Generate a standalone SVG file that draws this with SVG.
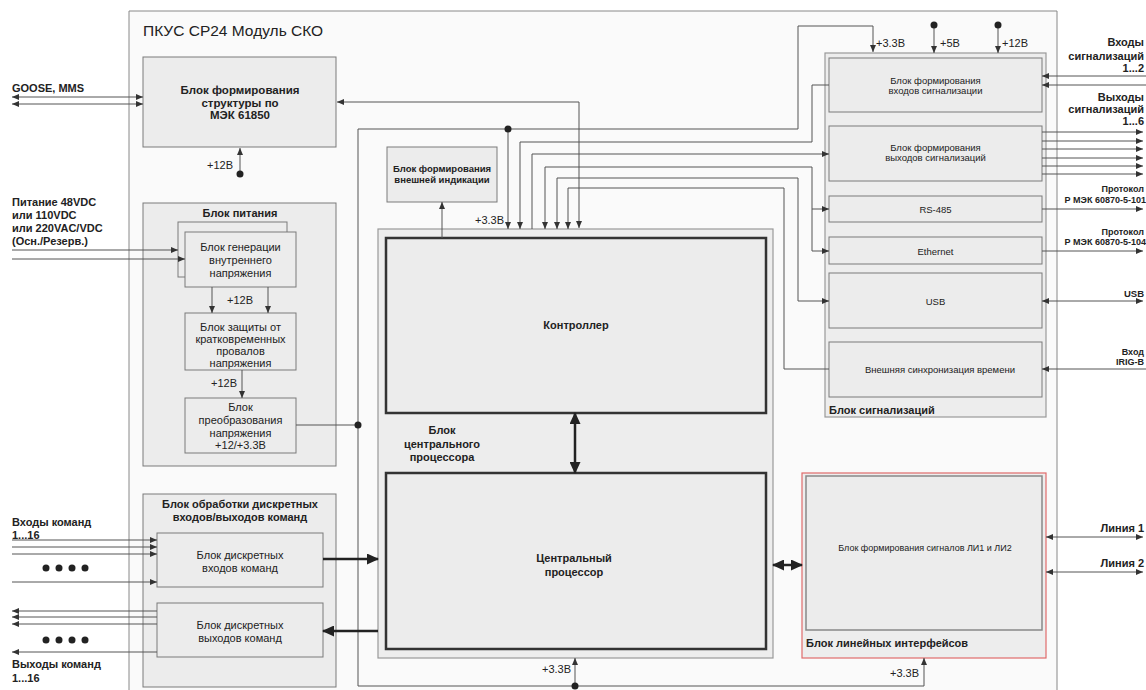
<svg xmlns="http://www.w3.org/2000/svg" width="1146" height="690" viewBox="0 0 1146 690">
<style>
text{font-family:"Liberation Sans",Arial,sans-serif;fill:#222}
.b{font-weight:bold}
.f11{font-size:11px}
.f115{font-size:11.5px}
.f9{font-size:9px}
.f95{font-size:9.5px}
.c{text-anchor:middle}
.r{text-anchor:end}
.box{fill:#ececec;stroke:#7a7a7a;stroke-width:1}
.cont{fill:#ededed;stroke:#999;stroke-width:1.2}
.strong{fill:#ececec;stroke:#333;stroke-width:2.5}
.ln{fill:none;stroke:#555;stroke-width:1}
.th{fill:none;stroke:#222;stroke-width:2.5}
.e{marker-end:url(#a)}
.bo{marker-start:url(#a);marker-end:url(#a)}
.te{marker-end:url(#A)}
.tb{marker-start:url(#A);marker-end:url(#A)}
.dot{fill:#222}
</style>
<defs>
<marker id="a" viewBox="0 0 7 6" refX="7" refY="3" markerWidth="7" markerHeight="6" markerUnits="userSpaceOnUse" orient="auto-start-reverse"><path d="M0,0L7,3L0,6z" fill="#333"/></marker>
<marker id="A" viewBox="0 0 12 11" refX="11" refY="5.5" markerWidth="12" markerHeight="11" markerUnits="userSpaceOnUse" orient="auto-start-reverse"><path d="M0,0L12,5.5L0,11z" fill="#222"/></marker>
</defs>
<rect width="1146" height="690" fill="#ffffff"/>
<g id="frame">
<path d="M129,690V11H1057V690" fill="#fafafa" stroke="#888" stroke-width="1"/>
<text x="143" y="36" style="font-size:15.5px">ПКУС СР24 Модуль СКО</text>
</g>

<g id="iec61850">
<rect class="box" x="143" y="57" width="193" height="90"/>
<text class="b f115 c" x="240" y="94">Блок формирования</text>
<text class="b f115 c" x="240" y="106.5">структуры по</text>
<text class="b f115 c" x="240" y="119">МЭК 61850</text>
</g>

<g id="power">
<rect class="box" x="143" y="203" width="193" height="263"/>
<text class="b f11 c" x="240" y="217">Блок питания</text>
</g>
<g id="gen">
<rect class="box" x="178" y="222" width="109" height="55"/>
<rect class="box" x="185" y="232" width="111" height="55"/>
<text class="f11 c" x="240.5" y="251">Блок генерации</text>
<text class="f11 c" x="240.5" y="264">внутреннего</text>
<text class="f11 c" x="240.5" y="277">напряжения</text>
</g>
<g id="protect">
<rect class="box" x="185" y="313" width="111" height="57"/>
<text class="f11 c" x="240.5" y="331">Блок защиты от</text>
<text class="f11 c" x="240.5" y="343">кратковременных</text>
<text class="f11 c" x="240.5" y="355">провалов</text>
<text class="f11 c" x="240.5" y="366.5">напряжения</text>
</g>
<g id="conv">
<rect class="box" x="185" y="398" width="111" height="55"/>
<text class="f11 c" x="240.5" y="411">Блок</text>
<text class="f11 c" x="240.5" y="424">преобразования</text>
<text class="f11 c" x="240.5" y="436.5">напряжения</text>
<text class="f11 c" x="240.5" y="449">+12/+3.3В</text>
</g>

<g id="discrete">
<rect class="box" x="143" y="494" width="193" height="193"/>
<text class="b f11 c" x="240" y="508">Блок обработки дискретных</text>
<text class="b f11 c" x="240" y="521">входов/выходов команд</text>
</g>
<g id="din">
<rect class="box" x="157" y="533" width="166" height="54"/>
<text class="f11 c" x="240" y="559">Блок дискретных</text>
<text class="f11 c" x="240" y="572">входов команд</text>
</g>
<g id="dout">
<rect class="box" x="157" y="603" width="166" height="54"/>
<text class="f11 c" x="240" y="629">Блок дискретных</text>
<text class="f11 c" x="240" y="642">выходов команд</text>
</g>

<g id="indication">
<rect class="box" x="387" y="147" width="110" height="55"/>
<text class="b f95 c" x="442" y="171.5">Блок формирования</text>
<text class="b f95 c" x="442" y="183">внешней индикации</text>
</g>

<g id="cpublock">
<rect class="cont" x="378" y="229" width="395" height="429"/>
<text class="b f11 c" x="442" y="434">Блок</text>
<text class="b f11 c" x="442" y="448">центрального</text>
<text class="b f11 c" x="442" y="461">процессора</text>
</g>
<g id="controller">
<rect class="strong" x="386" y="238" width="380" height="175"/>
<text class="b f11 c" x="576" y="329">Контроллер</text>
</g>
<g id="cpu">
<rect class="strong" x="386" y="473" width="380" height="176"/>
<text class="b f11 c" x="574" y="562">Центральный</text>
<text class="b f11 c" x="574" y="576">процессор</text>
</g>

<g id="signals">
<rect class="cont" x="825" y="53" width="221" height="364"/>
<text class="b f11" x="829" y="414">Блок сигнализаций</text>
</g>
<g id="sig-in">
<rect class="box" x="829" y="58" width="213" height="54"/>
<text class="f95 c" x="935.5" y="83.5">Блок формирования</text>
<text class="f95 c" x="935.5" y="94">входов сигнализации</text>
</g>
<g id="sig-out">
<rect class="box" x="829" y="126" width="213" height="55"/>
<text class="f95 c" x="935.5" y="150.5">Блок формирования</text>
<text class="f95 c" x="935.5" y="161">выходов сигнализаций</text>
</g>
<g id="rs485">
<rect class="box" x="829" y="196" width="213" height="26"/>
<text class="f95 c" x="935.5" y="212.5">RS-485</text>
</g>
<g id="ethernet">
<rect class="box" x="829" y="237" width="213" height="27"/>
<text class="f95 c" x="935.5" y="254.5">Ethernet</text>
</g>
<g id="usb">
<rect class="box" x="829" y="273" width="213" height="55"/>
<text class="f95 c" x="935.5" y="304.5">USB</text>
</g>
<g id="sync">
<rect class="box" x="829" y="342" width="213" height="55"/>
<text class="f95 c" x="940" y="372.5">Внешняя синхронизация времени</text>
</g>

<g id="lines">
<rect x="802" y="473" width="244" height="185" fill="#ededed" stroke="#e06b6b" stroke-width="1.2"/>
<rect x="806" y="476" width="236" height="154" fill="#ececec" stroke="#888" stroke-width="1.5"/>
<text class="f9 c" x="925" y="551">Блок формирования сигналов ЛИ1 и ЛИ2</text>
<text class="b f11" x="806" y="647">Блок линейных интерфейсов</text>
</g>

<g id="labels">
<text class="b f11" x="12" y="92">GOOSE, MMS</text>
<text class="b f11" x="12" y="206">Питание 48VDC</text>
<text class="b f11" x="12" y="219">или 110VDC</text>
<text class="b f11" x="12" y="232">или 220VAC/VDC</text>
<text class="b f11" x="12" y="244.5">(Осн./Резерв.)</text>
<text class="b f11" x="12" y="526">Входы команд</text>
<text class="b f11" x="12" y="539">1...16</text>
<text class="b f11" x="12" y="668">Выходы команд</text>
<text class="b f11" x="12" y="682">1...16</text>
<text class="b f11 r" x="1144" y="46">Входы</text>
<text class="b f11 r" x="1144" y="59.5">сигнализаций</text>
<text class="b f11 r" x="1144" y="72">1...2</text>
<text class="b f11 r" x="1144" y="101">Выходы</text>
<text class="b f11 r" x="1144" y="113">сигнализаций</text>
<text class="b f11 r" x="1144" y="125">1...6</text>
<text class="b f9 r" x="1144" y="192">Протокол</text>
<text class="b f9 r" x="1146" y="203">Р МЭК 60870-5-101</text>
<text class="b f9 r" x="1144" y="235">Протокол</text>
<text class="b f9 r" x="1146" y="245">Р МЭК 60870-5-104</text>
<text class="b f95 r" x="1144" y="297">USB</text>
<text class="b f9 r" x="1144" y="355">Вход</text>
<text class="b f9 r" x="1144" y="365">IRIG-B</text>
<text class="b f11 r" x="1144" y="532">Линия 1</text>
<text class="b f11 r" x="1144" y="567">Линия 2</text>
<text class="f11" x="207" y="169">+12В</text>
<text class="f11" x="227" y="304">+12В</text>
<text class="f11" x="211" y="387">+12В</text>
<text class="f11" x="475" y="224">+3.3В</text>
<text class="f11" x="542" y="673">+3.3В</text>
<text class="f11" x="890" y="677">+3.3В</text>
<text class="f11" x="876" y="47">+3.3В</text>
<text class="f11" x="940" y="47">+5В</text>
<text class="f11" x="1002" y="47">+12В</text>
</g>

<g id="connectors">
<path class="ln bo" d="M12,97H143"/>
<path class="ln bo" d="M12,104H143"/>
<path class="ln e" d="M240,174V148"/>
<path class="ln bo" d="M579,228V102H337"/>
<path class="ln e" d="M12,250H178"/>
<path class="ln e" d="M12,259H185"/>
<path class="ln e" d="M212,287V313"/>
<path class="ln e" d="M268,287V313"/>
<path class="ln e" d="M242,370V398"/>
<path class="ln" d="M296,425H358"/>
<path class="ln e" d="M358,686V129H798V26H873V52"/>
<path class="ln e" d="M508,129V229"/>
<path class="ln e" d="M358,686H924V658"/>
<path class="ln e" d="M575,686V658"/>
<path class="ln e" d="M934,25V53"/>
<path class="ln e" d="M998,25V53"/>
<path class="ln e" d="M829,85H812V142H520V229"/>
<path class="ln e" d="M532,229V154H829"/>
<path class="ln bo" d="M545,229V167H812V251H829"/>
<path class="ln e" d="M812,209H829"/>
<path class="ln bo" d="M557,229V178H798V301H829"/>
<path class="ln e" d="M829,369H784V188H568V229"/>
<path class="ln e" d="M442,238V202"/>
<path class="ln e" d="M1146,76H1042"/>
<path class="ln e" d="M1146,85H1042"/>
<path class="ln e" d="M1042,132H1143"/>
<path class="ln e" d="M1042,141H1143"/>
<path class="ln e" d="M1042,149H1143"/>
<path class="ln e" d="M1042,158H1143"/>
<path class="ln e" d="M1042,166H1143"/>
<path class="ln e" d="M1042,174H1143"/>
<path class="ln e" d="M1042,209H1143"/>
<path class="ln e" d="M1042,251H1143"/>
<path class="ln bo" d="M1042,301H1143"/>
<path class="ln e" d="M1146,369H1042"/>
<path class="ln bo" d="M1046,537H1143"/>
<path class="ln bo" d="M1046,572H1143"/>
<path class="ln e" d="M12,540H157"/>
<path class="ln e" d="M12,547H157"/>
<path class="ln e" d="M12,554H157"/>
<path class="ln e" d="M12,582H157"/>
<path class="ln e" d="M157,611H12"/>
<path class="ln e" d="M157,617H12"/>
<path class="ln e" d="M157,624H12"/>
<path class="ln e" d="M157,652H12"/>
<path class="th te" d="M323,559H378"/>
<path class="th te" d="M378,631H323"/>
<path class="th tb" d="M575,413V473"/>
<path class="th tb" d="M773,565H802"/>
<circle class="dot" cx="240" cy="174" r="3.5"/>
<circle class="dot" cx="358" cy="425" r="3.5"/>
<circle class="dot" cx="508" cy="129" r="3.5"/>
<circle class="dot" cx="575" cy="686" r="3.5"/>
<circle class="dot" cx="934" cy="25" r="3.5"/>
<circle class="dot" cx="998" cy="25" r="3.5"/>
<circle class="dot" cx="46" cy="568" r="3.5"/>
<circle class="dot" cx="59" cy="568" r="3.5"/>
<circle class="dot" cx="72" cy="568" r="3.5"/>
<circle class="dot" cx="85" cy="568" r="3.5"/>
<circle class="dot" cx="46" cy="640" r="3.5"/>
<circle class="dot" cx="59" cy="640" r="3.5"/>
<circle class="dot" cx="72" cy="640" r="3.5"/>
<circle class="dot" cx="85" cy="640" r="3.5"/>
</g>
</svg>
